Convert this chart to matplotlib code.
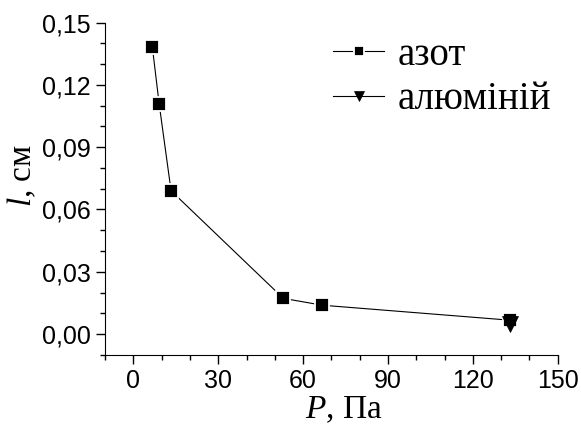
import matplotlib
matplotlib.use("Agg")
import matplotlib.pyplot as plt
from matplotlib.ticker import MultipleLocator, FuncFormatter

plt.rcParams["mathtext.fontset"] = "custom"
plt.rcParams["mathtext.rm"] = "Liberation Serif"
plt.rcParams["mathtext.it"] = "Liberation Serif:italic"

# data
p_nitrogen = [6.7, 9.1, 13.3, 53, 66.8, 133]
l_nitrogen = [0.138, 0.1107, 0.069, 0.0172, 0.0139, 0.0067]
p_aluminium = [133]
l_aluminium = [0.0047]

fig = plt.figure(figsize=(5.81, 4.26), dpi=100)
ax = fig.add_axes([0.181, 0.167, 0.779, 0.780])

# white marker edge gives the small gap between line and marker
ax.plot(p_nitrogen, l_nitrogen, color="black", lw=0.8, marker="s", ms=10,
        mec="white", mew=1.3, label="азот")
ax.plot(p_aluminium, l_aluminium, color="black", lw=0.8, marker="v", ms=11,
        mec="black", mew=0.5, label="алюміній")

ax.set_xlim(-10, 150)
ax.set_ylim(-0.01, 0.15)
ax.xaxis.set_major_locator(MultipleLocator(30))
ax.xaxis.set_minor_locator(MultipleLocator(10))
ax.yaxis.set_major_locator(MultipleLocator(0.03))
ax.yaxis.set_minor_locator(MultipleLocator(0.01))
ax.yaxis.set_major_formatter(FuncFormatter(lambda v, pos: f"{v:.2f}".replace(".", ",")))

for s in ["top", "right"]:
    ax.spines[s].set_visible(False)
ax.tick_params(which="major", direction="out", length=6.5, width=1, pad=4)
ax.tick_params(which="minor", direction="out", length=3.6, width=1)
for lab in ax.get_xticklabels() + ax.get_yticklabels():
    lab.set_family("Liberation Sans")
    lab.set_fontsize(18)

ax.set_xlabel("$P$, Па", family="Liberation Serif", fontsize=24, va="center")
ax.set_ylabel("$l$, см", family="Liberation Serif", fontsize=24, va="center")
ax.xaxis.set_label_coords(0.527, -0.165)
ax.yaxis.set_label_coords(-0.183, 0.54)

leg = ax.legend(loc="upper right", bbox_to_anchor=(1.045, 1.04), frameon=False,
                prop={"family": "Liberation Serif", "size": 28},
                markerscale=0.7, handlelength=1.3, handletextpad=0.35,
                labelspacing=0.2, borderpad=0.2)

plt.savefig("out.png", dpi=100)
